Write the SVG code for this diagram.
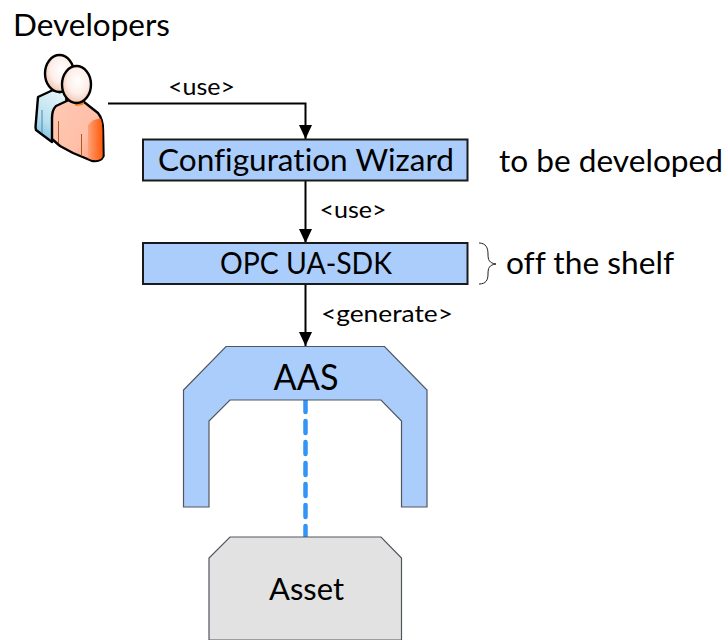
<svg xmlns="http://www.w3.org/2000/svg" width="728" height="640" viewBox="0 0 728 640">
<defs>
<marker id="arrow" markerUnits="userSpaceOnUse" markerWidth="14" markerHeight="14" refX="14" refY="7" orient="auto"><path d="M0,0.5 L14,7 L0,13.500 Z" fill="#000"/></marker>
<radialGradient id="head" cx="0.55" cy="0.4" r="0.65"><stop offset="0" stop-color="#fff"/><stop offset="0.55" stop-color="#fdeee8"/><stop offset="1" stop-color="#f0bda6"/></radialGradient>
<linearGradient id="blue" x1="0.6" y1="0" x2="0.2" y2="1"><stop offset="0" stop-color="#e4f3f8"/><stop offset="0.6" stop-color="#b8e0f0"/><stop offset="1" stop-color="#78c0e0"/></linearGradient>
<linearGradient id="orange" x1="0" y1="0" x2="1" y2="0.7"><stop offset="0" stop-color="#ffc9b4"/><stop offset="0.7" stop-color="#ffbfa8"/><stop offset="1" stop-color="#ffa585"/></linearGradient>
<linearGradient id="side" x1="0" y1="0" x2="1" y2="0"><stop offset="0" stop-color="#ffa078"/><stop offset="1" stop-color="#ff5a08"/></linearGradient>
</defs>
<style>
text{font-family:Lato,"Liberation Sans",sans-serif;fill:#000;font-variant-ligatures:none}
.box{fill:#abcdfb;stroke:#1a1a1a;stroke-width:2}
.shape{stroke:#50565e;stroke-width:1.2}
.conn{fill:none;stroke:#000;stroke-width:2;marker-end:url(#arrow)}
.lab{font-size:23px}
.big{font-size:31px}
</style>
<g id="developers">
<text x="13" y="36" class="big" textLength="157" lengthAdjust="spacingAndGlyphs">Developers</text>
<g id="person-back">
<path d="M38,97 L53,90 L66,92 L67,112 L52,142 L36,130 L35.500,127 Z" fill="url(#blue)" stroke="#000" stroke-width="2.400" stroke-linejoin="round"/>
<path d="M53,90 L60,88 L64,91 L60,94 Z" fill="#4aa6d8"/>
<line x1="42" y1="110" x2="42" y2="133" stroke="#4a8aa8" stroke-width="1"/>
<ellipse cx="59.500" cy="73.500" rx="14.500" ry="18.500" fill="url(#head)" stroke="#000" stroke-width="2.400"/>
</g>
<g id="person-front">
<path d="M56,106 L71,99 L84,102 L98,113 C102,118 103,124 103,130 L103.500,156 C102,160 97,162 91,160.500 L73,153 L60,146 L52,139 L52,118 C52,112 54,108 56,106 Z" fill="url(#orange)" stroke="#000" stroke-width="2.400" stroke-linejoin="round"/>
<path d="M88,125 C92,120 98,118 101,119 C102.500,125 102.500,130 102.500,135 L102.500,157 C101,160 96,161 91,159.500 L88,158 Z" fill="url(#side)"/>
<path d="M71,100 L84,102 L83,105 L76,106 Z" fill="#ef7d1a"/>
<line x1="58.500" y1="121" x2="58.500" y2="143" stroke="#a85a20" stroke-width="1"/>
<line x1="81.500" y1="134" x2="81.500" y2="156" stroke="#a85a20" stroke-width="1"/>
<ellipse cx="76.500" cy="84.500" rx="14.500" ry="18.500" fill="url(#head)" stroke="#000" stroke-width="2.400"/>
</g>
</g>
<g id="connectors">
<path class="conn" d="M108,103.500 H305.500 V139"/>
<path class="conn" d="M305.500,181 V243"/>
<path class="conn" d="M305.500,284 V346"/>
<line x1="305.500" y1="400" x2="305.500" y2="537" stroke="#3394f5" stroke-width="4.500" stroke-dasharray="12 9" stroke-linecap="round"/>
<path d="M479,243 C486,243 488,248 488,254 C488,260 489,263 496,264 C489,265 488,268 488,274 C488,280 486,284 479,284" fill="none" stroke="#222" stroke-width="1"/>
</g>
<g id="use-1"><text x="201.500" y="95" class="lab" text-anchor="middle" textLength="67" lengthAdjust="spacingAndGlyphs">&lt;use&gt;</text></g>
<g id="config-wizard">
<rect x="143" y="139.500" width="324.500" height="41" class="box"/>
<text x="306" y="171" class="big" text-anchor="middle" textLength="296" lengthAdjust="spacingAndGlyphs">Configuration Wizard</text>
</g>
<g id="to-be-developed"><text x="499" y="172" class="big" textLength="224" lengthAdjust="spacingAndGlyphs">to be developed</text></g>
<g id="use-2"><text x="353" y="218" class="lab" text-anchor="middle" textLength="67" lengthAdjust="spacingAndGlyphs">&lt;use&gt;</text></g>
<g id="opc-ua-sdk">
<rect x="143" y="243" width="324.500" height="41" class="box"/>
<text x="306" y="274" class="big" text-anchor="middle" textLength="172" lengthAdjust="spacingAndGlyphs">OPC UA-SDK</text>
</g>
<g id="off-the-shelf"><text x="506" y="274" class="big" textLength="168" lengthAdjust="spacingAndGlyphs">off the shelf</text></g>
<g id="generate"><text x="387" y="322" class="lab" text-anchor="middle" textLength="132" lengthAdjust="spacingAndGlyphs">&lt;generate&gt;</text></g>
<g id="aas">
<path class="shape" fill="#abcdfb" d="M226,346.500 H384.500 L427,390 V507 H401.500 V421 L381,400 H230 L209,421 V507 H183.500 V390 Z"/>
<text x="306" y="390" class="big" style="font-size:36px" text-anchor="middle" textLength="65" lengthAdjust="spacingAndGlyphs">AAS</text>
</g>
<g id="asset">
<path class="shape" fill="#e2e2e2" d="M230,537 H381 L401.500,558 V640 H209 V558 Z"/>
<text x="306.500" y="600" class="big" text-anchor="middle" textLength="75" lengthAdjust="spacingAndGlyphs">Asset</text>
</g>
</svg>
